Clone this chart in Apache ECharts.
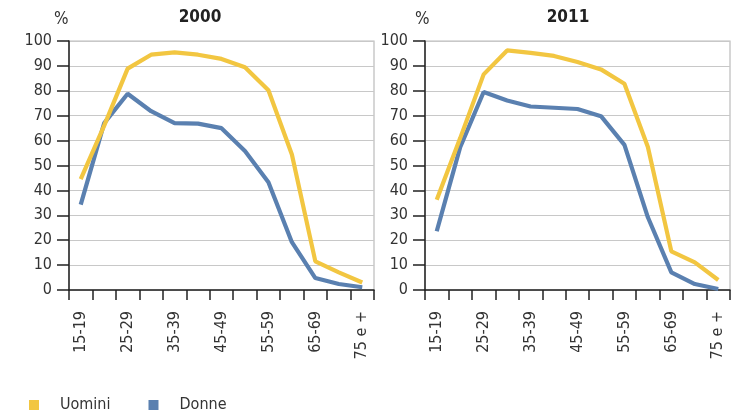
<!DOCTYPE html>
<html><head><meta charset="utf-8">
<script src="https://cdn.jsdelivr.net/npm/echarts@6/dist/echarts.min.js"></script>
<style>html,body{margin:0;padding:0;background:#fff}#c{width:738px;height:414px}</style>
</head><body><div id="c"></div>
<script>
var categories = ['15-19','20-24','25-29','30-34','35-39','40-44','45-49','50-54','55-59','60-64','65-69','70-74','75 e +'];
var titles = ['2000','2011'];
var uomini2000 = [44.5,66,88.9,94.5,95.4,94.5,92.8,89.5,80.2,54.4,11.5,7.1,3];
var donne2000 = [34.3,67,78.8,71.8,67,66.8,65,55.8,43.3,19.2,4.8,2.4,1.1];
var uomini2011 = [36.2,61,86.6,96.2,95.2,94,91.6,88.6,82.8,57.4,15.5,11.1,4];
var donne2011 = [23.6,57.4,79.5,76.1,73.7,73.2,72.7,69.8,58.3,29.2,7.1,2.4,0.4];

var FONT = '"Liberation Sans Narrow","DejaVu Sans Condensed",sans-serif';
var YELLOW = '#F2C641', BLUE = '#5A80B0';
var chart = echarts.init(document.getElementById('c'), null, {renderer:'canvas'});
var lefts = [69, 425];
function xAxis(i){return {type:'category',gridIndex:i,data:categories,boundaryGap:true,
  axisLine:{lineStyle:{color:'#222',width:1.5}},
  axisTick:{show:true,interval:0,length:10,lineStyle:{color:'#222',width:1.5}},
  axisLabel:{interval:1,rotate:90,margin:21,color:'#333',fontFamily:FONT,fontSize:16},
  splitLine:{show:false}};}
function yAxis(i){return {type:'value',gridIndex:i,min:0,max:100,interval:10,
  axisLine:{show:true,lineStyle:{color:'#222',width:1.5}},
  axisTick:{show:true,length:12,lineStyle:{color:'#222',width:1.5}},
  axisLabel:{margin:17,color:'#333',fontFamily:FONT,fontSize:16},
  splitLine:{show:true,lineStyle:{color:'#c8c8c8',width:1.2}}};}
function line(name,data,color,i){return {name:name,type:'line',xAxisIndex:i,yAxisIndex:i,data:data,
  symbol:'none',lineStyle:{color:color,width:4.2},itemStyle:{color:color},z: name==='Uomini'?3:2};}
chart.setOption({
  animation:false,
  textStyle:{fontFamily:FONT},
  grid:[
    {left:lefts[0],width:305,top:41,bottom:124,show:true,borderColor:'#bbb',borderWidth:1.2},
    {left:lefts[1],width:305,top:41,bottom:124,show:true,borderColor:'#bbb',borderWidth:1.2}
  ],
  title:[
    {text:titles[0],left:200,top:9,padding:0,textAlign:'center',textStyle:{fontFamily:FONT,fontSize:17,fontWeight:'bold',color:'#222'}},
    {text:titles[1],left:568,top:9,padding:0,textAlign:'center',textStyle:{fontFamily:FONT,fontSize:17,fontWeight:'bold',color:'#222'}},
    {text:'%',left:54,top:11,padding:0,textStyle:{fontFamily:FONT,fontSize:17,fontWeight:'normal',color:'#333'}},
    {text:'%',left:415,top:11,padding:0,textStyle:{fontFamily:FONT,fontSize:17,fontWeight:'normal',color:'#333'}}
  ],
  legend:{data:['Uomini','Donne'],left:29,top:397,padding:0,icon:'rect',itemWidth:10,itemHeight:10,itemGap:38,
    textStyle:{fontFamily:FONT,fontSize:16,color:'#333',padding:[0,0,0,16]}},
  xAxis:[xAxis(0),xAxis(1)],
  yAxis:[yAxis(0),yAxis(1)],
  series:[
    line('Uomini',uomini2000,YELLOW,0),
    line('Donne',donne2000,BLUE,0),
    line('Uomini',uomini2011,YELLOW,1),
    line('Donne',donne2011,BLUE,1)
  ]
});
</script></body></html>
